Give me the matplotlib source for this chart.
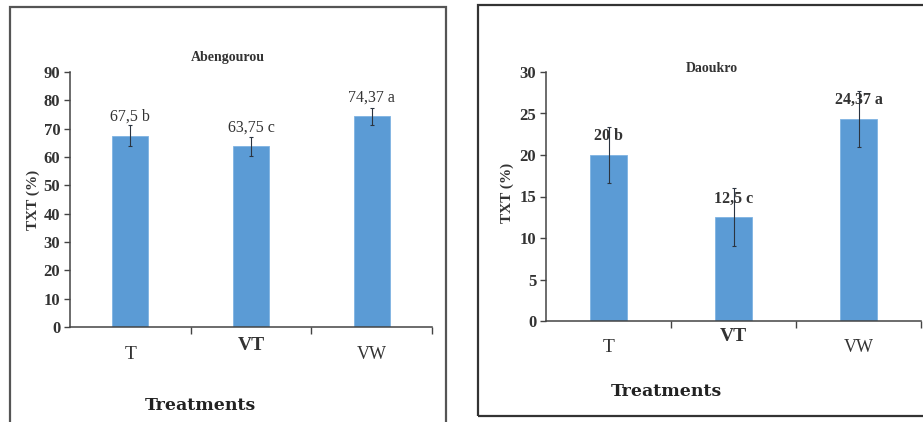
import matplotlib
matplotlib.use("Agg")
import matplotlib.pyplot as plt
from matplotlib.patches import Rectangle

# Data
treatments = ["T", "VT", "VW"]

abengourou_values = [67.5, 63.75, 74.37]
abengourou_errors = [3.7, 3.3, 3.1]
abengourou_labels = ["67,5 b", "63,75 c", "74,37 a"]

daoukro_values = [20, 12.5, 24.37]
daoukro_errors = [3.4, 3.5, 3.4]
daoukro_labels = ["20 b", "12,5 c", "24,37 a"]

BAR_COLOR = "#5B9BD5"
SERIF = ["Liberation Serif", "DejaVu Serif"]

W, H = 923, 422
fig = plt.figure(figsize=(W / 100, H / 100), dpi=100)
fig.patch.set_facecolor("white")


def px_rect(x0, y0, x1, y1):
    """Figure-fraction rectangle from pixel corners (origin top-left)."""
    return [x0 / W, 1 - y1 / H, (x1 - x0) / W, (y1 - y0) / H]


# Panel frames
fig.patches.append(Rectangle((10 / W, 1 - 440 / H), 436 / W, 433 / H,
                             transform=fig.transFigure, fill=False,
                             edgecolor="#555555", linewidth=1.6))
fig.patches.append(Rectangle((478 / W, 1 - 416 / H), 460 / W, 411 / H,
                             transform=fig.transFigure, fill=False,
                             edgecolor="#333333", linewidth=1.6))


def panel(rect, values, errors, labels, ymax, ystep, title, title_y,
          label_weight, ylab_x, xlab_y, cat_offsets):
    ax = fig.add_axes(rect)
    x = list(range(len(treatments)))
    ax.bar(x, values, width=0.3, color=BAR_COLOR, edgecolor="#7FB3E3",
           linewidth=0.6, zorder=2)
    ax.errorbar(x, values, yerr=errors, fmt="none", ecolor="#2b3440",
                elinewidth=0.8, capsize=1.5, capthick=0.8, zorder=3)
    for xi, v, lab in zip(x, values, labels):
        ax.annotate(lab, (xi, v), xytext=(0, 13.5), textcoords="offset points",
                    ha="center", va="center", fontsize=11.5,
                    fontweight=label_weight, family=SERIF, color="#333333")
    ax.set_xlim(-0.5, 2.5)
    ax.set_ylim(0, ymax)
    ax.set_yticks(range(0, ymax + 1, ystep))
    ax.set_xticks(x)
    ax.set_xticklabels([])
    ax.set_xticks([0.5, 1.5, 2.5], minor=True)
    ax.tick_params(axis="x", which="major", length=0)
    ax.tick_params(axis="x", which="minor", length=5, direction="out",
                   color="#444444", width=1.0)
    ax.tick_params(axis="y", length=4, direction="out", color="#444444",
                   width=1.0, pad=3)
    for t in ax.get_yticklabels():
        t.set_fontfamily(SERIF)
        t.set_fontweight("bold")
        t.set_fontsize(12)
        t.set_color("#333333")
    for s in ("top", "right"):
        ax.spines[s].set_visible(False)
    for s in ("left", "bottom"):
        ax.spines[s].set_color("#444444")
        ax.spines[s].set_linewidth(1.1)

    # category names under the axis
    styles = [("normal", 14), ("bold", 14), ("normal", 13)]
    for xi, name, dy, (wt, fs) in zip(x, treatments, cat_offsets, styles):
        ax.annotate(name, (xi, 0), xytext=(0, dy), textcoords="offset points",
                    ha="center", va="center", fontsize=fs, fontweight=wt,
                    family=SERIF, color="#333333", annotation_clip=False)

    fig.text(title[1] / W, 1 - title_y / H, title[0], ha="center", va="center",
             fontsize=10, fontweight="bold", family=SERIF, color="#333333")
    fig.text(ylab_x[0] / W, 1 - ylab_x[1] / H, "TXT (%)", rotation=90,
             ha="center", va="center", fontsize=11, fontweight="bold",
             family=SERIF, color="#333333")
    fig.text(xlab_y[0] / W, 1 - xlab_y[1] / H, "Treatments", ha="center",
             va="center", fontsize=12.5, fontweight="bold",
             family=["DejaVu Serif"], color="#222222")
    return ax


panel(px_rect(70, 72, 432, 327), abengourou_values, abengourou_errors,
      abengourou_labels, 90, 10, ("Abengourou", 228), 58, "normal",
      (33, 200), (200, 405), [-20, -13, -20])
panel(px_rect(546, 72, 921, 321), daoukro_values, daoukro_errors,
      daoukro_labels, 30, 5, ("Daoukro", 712), 68, "bold",
      (507, 193), (666, 392), [-19, -11.5, -19])

fig.savefig("out.png", dpi=100, facecolor="white")
